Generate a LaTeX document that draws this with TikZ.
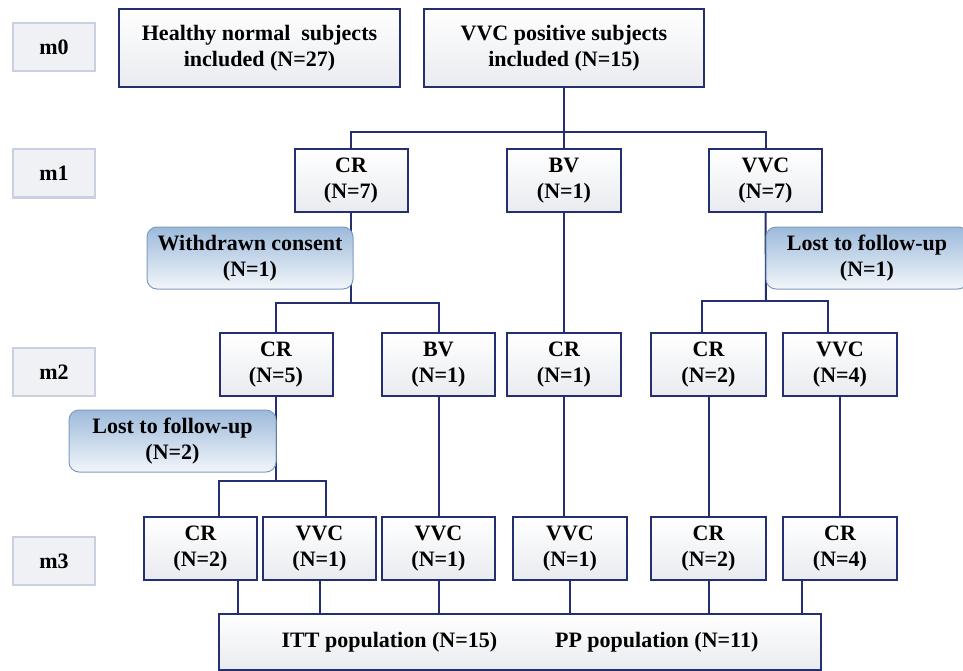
\documentclass[tikz,border=0pt]{standalone}
\usepackage{fontspec}
\setmainfont{Liberation Serif}
\usetikzlibrary{backgrounds}
\definecolor{navy}{HTML}{232F6E}
\definecolor{boxgrey}{HTML}{E9EBEF}
\definecolor{mfill}{HTML}{F0F1F5}
\definecolor{mborder}{HTML}{C8D0E2}
\definecolor{calltop}{HTML}{9DBADB}
\definecolor{callbot}{HTML}{F2F6FA}
\definecolor{callborder}{HTML}{7F9CC0}
\begin{document}
\begin{tikzpicture}[x=1pt,y=-1pt,
  every node/.style={font=\bfseries\fontsize{22}{26}\selectfont, align=center, inner sep=0pt, outer sep=0pt},
  stage/.style={draw=mborder, fill=mfill, line width=2pt, minimum width=82pt, minimum height=48pt},
  flowbox/.style={draw=navy, line width=2pt, top color=white, bottom color=boxgrey, minimum height=63pt},
  callout/.style={draw=callborder, line width=1pt, rounded corners=10pt, top color=calltop, bottom color=callbot, minimum height=62pt},
  link/.style={draw=navy, line width=2pt}]
\useasboundingbox (0,0) rectangle (963,671);
\clip (0,0) rectangle (963,671);
% stage labels
\node[stage] (m0) at (54,47) {m0};
\node[stage] (m1) at (54,173.5) {m1};
\node[stage] (m2) at (54,372) {m2};
\node[stage] (m3) at (54,561) {m3};
% top
\node[flowbox, minimum width=281pt, minimum height=78pt] (healthy) at (259.5,48) {Healthy normal\ \ subjects\\included (N=27)};
\node[flowbox, minimum width=280pt, minimum height=78pt] (vvcpos) at (564,48) {VVC positive subjects\\included (N=15)};
% m1
\node[flowbox, minimum width=113pt] (cr1) at (351,180.5) {CR\\(N=7)};
\node[flowbox, minimum width=114pt] (bv1) at (564,180.5) {BV\\(N=1)};
\node[flowbox, minimum width=113pt] (vvc1) at (765.5,180.5) {VVC\\(N=7)};
% callouts
\node[callout, minimum width=206pt] (wd) at (250,258) {Withdrawn consent\\(N=1)};
\node[callout, minimum width=202pt] (lost1) at (867,258) {Lost to follow-up\\(N=1)};
% m2
\node[flowbox, minimum width=113pt] (cr2) at (276,364.5) {CR\\(N=5)};
\node[flowbox, minimum width=113pt] (bv2) at (438.5,364.5) {BV\\(N=1)};
\node[flowbox, minimum width=114pt] (crb2) at (564,364.5) {CR\\(N=1)};
\node[flowbox, minimum width=115pt] (crc2) at (708.5,364.5) {CR\\(N=2)};
\node[flowbox, minimum width=114pt] (vvc2) at (840,364.5) {VVC\\(N=4)};
\node[callout, minimum width=207pt] (lost2) at (172.5,441) {Lost to follow-up\\(N=2)};
% m3
\node[flowbox, minimum width=113pt] (cr3) at (200.5,548.5) {CR\\(N=2)};
\node[flowbox, minimum width=113pt] (vvc3a) at (319.5,548.5) {VVC\\(N=1)};
\node[flowbox, minimum width=113pt] (vvc3b) at (438.5,548.5) {VVC\\(N=1)};
\node[flowbox, minimum width=114pt] (vvc3c) at (570,548.5) {VVC\\(N=1)};
\node[flowbox, minimum width=115pt] (cr3b) at (708.5,548.5) {CR\\(N=2)};
\node[flowbox, minimum width=114pt] (cr3c) at (840,548.5) {CR\\(N=4)};
% bottom
\node[flowbox, minimum width=602pt, minimum height=56pt] (pop) at (520,642) {ITT population (N=15)\hspace{58pt}PP population (N=11)};
% junctions
\coordinate (j0) at (564,132);
\coordinate (j1) at (351,303);
\coordinate (j2) at (766,301);
\coordinate (j3) at (276,481);
\begin{scope}[on background layer]
\draw[link] (vvcpos.south) -- (bv1.north);
\draw[link] (cr1.north) |- (j0) -| (vvc1.north);
\draw[link] (cr1.south) -- (j1);
\draw[link] (cr2.north) |- (j1) -| (bv2.north);
\draw[link] (vvc1.south) -- (j2);
\draw[link] ([xshift=-6.5pt]crc2.north) |- (j2) -| ([xshift=-12pt]vvc2.north);
\draw[link] (bv1.south) -- (crb2.north);
\draw[link] (cr2.south) -- (j3);
\draw[link] ([xshift=18.5pt]cr3.north) |- (j3) -| ([xshift=6.5pt]vvc3a.north);
\draw[link] (bv2.south) -- (vvc3b.north);
\draw[link] (crb2.south) -- (crb2.south |- vvc3c.north);
\draw[link] (crc2.south) -- (cr3b.north);
\draw[link] (vvc2.south) -- (cr3c.north);
\draw[link] ([xshift=37.5pt]cr3.south) -- ([xshift=37.5pt]cr3.south |- pop.north);
\draw[link] (vvc3a.south) -- (vvc3a.south |- pop.north);
\draw[link] (vvc3b.south) -- (vvc3b.south |- pop.north);
\draw[link] (vvc3c.south) -- (vvc3c.south |- pop.north);
\draw[link] (cr3b.south) -- (cr3b.south |- pop.north);
\draw[link] ([xshift=-38pt]cr3c.south) -- ([xshift=-38pt]cr3c.south |- pop.north);
\end{scope}
\end{tikzpicture}
\end{document}
